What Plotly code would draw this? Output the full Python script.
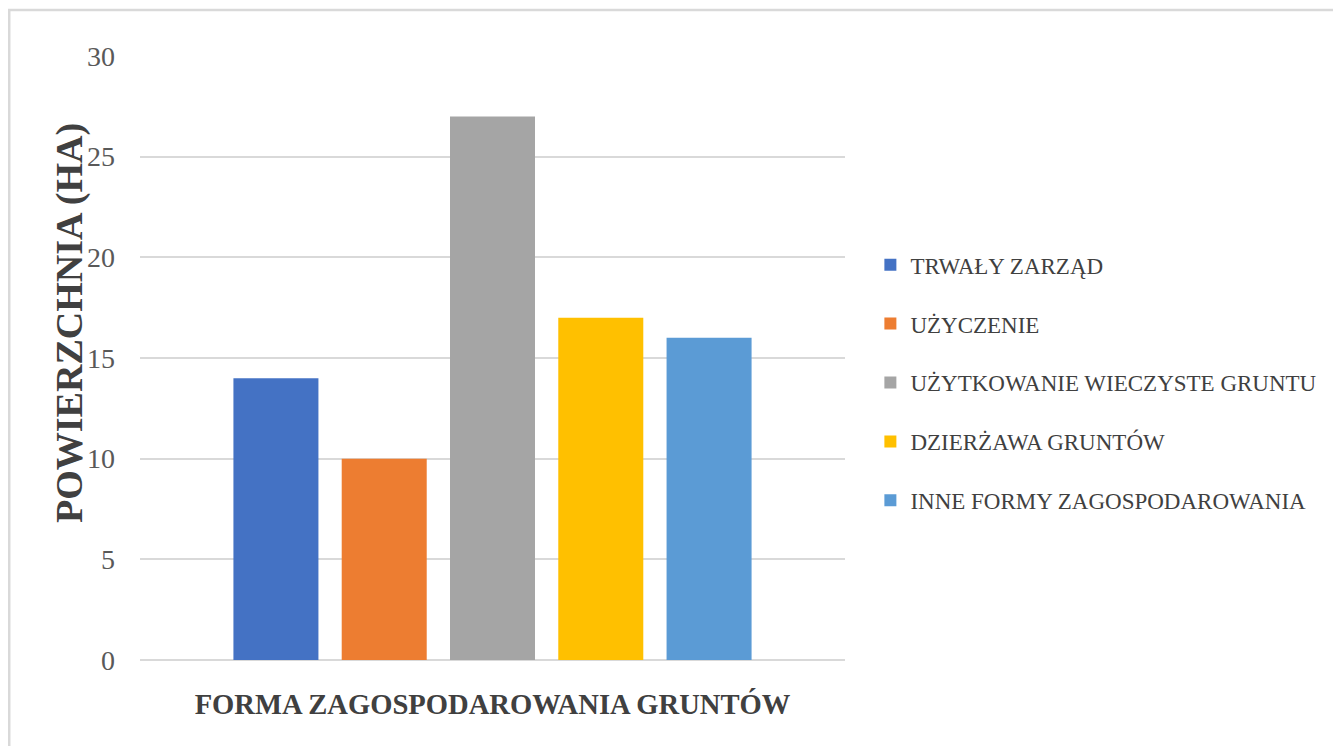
import plotly.graph_objects as go

# dane
kategoria = ["Forma zagospodarowania"]
serie = [
    "TRWAŁY ZARZĄD",
    "UŻYCZENIE",
    "UŻYTKOWANIE WIECZYSTE GRUNTU",
    "DZIERŻAWA GRUNTÓW",
    "INNE FORMY ZAGOSPODAROWANIA",
]
wartosci = [14, 10, 27, 17, 16]
kolory = ["#4472C4", "#ED7D31", "#A5A5A5", "#FFC000", "#5B9BD5"]
y_ticks = [0, 5, 10, 15, 20, 25, 30]

FONT = "Liberation Serif"

fig = go.Figure()
for i, (nazwa, wart, kol) in enumerate(zip(serie, wartosci, kolory)):
    fig.add_trace(go.Bar(
        x=kategoria, y=[wart], name=nazwa,
        marker=dict(color=kol, line=dict(width=0)),
        legendgroup=str(i),
    ))

# the page body has an 8px margin, so the figure is 8px smaller
# plot area on screen: x 140..845, y 56..660
fig.update_layout(
    width=1333, height=738,
    margin=dict(l=132, r=496, t=48, b=86),
    paper_bgcolor="white", plot_bgcolor="white",
    font=dict(family=FONT, color="#595959"),
    barmode="group", bargap=0.232, bargroupgap=0.215,
    showlegend=True,
    legend=dict(
        x=1.036, xanchor="left", y=0.69, yanchor="top",
        font=dict(size=23, color="#404040", family=FONT),
        traceorder="grouped", tracegroupgap=26,
        bgcolor="rgba(0,0,0,0)",
    ),
    xaxis=dict(
        showticklabels=False, showgrid=False, zeroline=False,
        showline=False, ticks="",
        title=dict(text="<b>FORMA ZAGOSPODAROWANIA GRUNTÓW</b>",
                   font=dict(size=28.6, color="#404040", family=FONT),
                   standoff=33),
    ),
    yaxis=dict(
        range=[0, 30], tickvals=y_ticks,
        showgrid=True, gridcolor="#d9d9d9", gridwidth=1.5,
        zeroline=True, zerolinecolor="#d9d9d9", zerolinewidth=1.5,
        showline=False, ticks="",
        ticklabelstandoff=24,
        tickfont=dict(size=28, color="#595959", family=FONT),
    ),
    annotations=[dict(
        text="<b>POWIERZCHNIA (HA)</b>", textangle=-90,
        xref="paper", yref="paper", x=-0.0993, y=0.558,
        xanchor="center", yanchor="middle", showarrow=False,
        font=dict(size=38, color="#404040", family=FONT),
    )],
    shapes=[dict(
        type="rect", xref="paper", yref="paper",
        x0=-0.1855, x1=1.72, y0=-0.16, y1=1.0762,
        line=dict(color="#d9d9d9", width=2.5), fillcolor="rgba(0,0,0,0)",
        layer="below",
    )],
)

fig.write_html("out.html")
